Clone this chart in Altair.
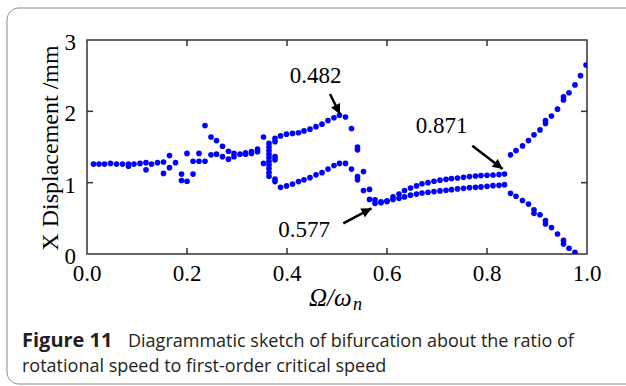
import altair as alt
import pandas as pd

# ---- data (ratio Ω/ωn, X displacement in mm) ----
ratio_a = [0.013, 0.024, 0.035, 0.047, 0.059, 0.071, 0.083, 0.083, 0.094, 0.106,
           0.118, 0.118, 0.129, 0.141, 0.153, 0.153, 0.165, 0.165, 0.177, 0.189, 0.189]
disp_a = [1.26, 1.26, 1.26, 1.27, 1.26, 1.26, 1.26, 1.23, 1.26, 1.27,
          1.28, 1.18, 1.26, 1.28, 1.29, 1.13, 1.38, 1.21, 1.28, 1.12, 1.03]

ratio_b = [0.200, 0.200, 0.212, 0.212, 0.224, 0.224, 0.236, 0.236, 0.248, 0.248,
           0.259, 0.259, 0.271, 0.271, 0.283, 0.283, 0.294, 0.294, 0.306, 0.317,
           0.317, 0.329, 0.329, 0.341, 0.341, 0.353, 0.353]
disp_b = [1.41, 1.02, 1.30, 1.12, 1.41, 1.30, 1.80, 1.30, 1.64, 1.39,
          1.59, 1.40, 1.51, 1.365, 1.44, 1.33, 1.41, 1.365, 1.40, 1.42,
          1.40, 1.435, 1.41, 1.47, 1.435, 1.64, 1.27]

ratio_c = [0.364, 0.364, 0.364, 0.364, 0.364, 0.364, 0.364, 0.364, 0.364, 0.364,
           0.376, 0.376, 0.376, 0.376, 0.376, 0.376]
disp_c = [1.55, 1.50, 1.45, 1.40, 1.35, 1.30, 1.25, 1.20, 1.14, 1.09,
          1.62, 1.575, 1.365, 1.32, 1.05, 1.015]

ratio_d_up = [0.387, 0.399, 0.411, 0.423, 0.434, 0.446, 0.458, 0.470, 0.482, 0.494,
              0.505, 0.517, 0.529, 0.541, 0.541]
disp_d_up = [1.655, 1.68, 1.69, 1.70, 1.725, 1.75, 1.785, 1.82, 1.87, 1.91,
             1.945, 1.92, 1.76, 1.50, 1.46]
ratio_d_lo = [0.387, 0.399, 0.411, 0.423, 0.434, 0.446, 0.458, 0.470, 0.482, 0.494,
              0.505, 0.517, 0.529, 0.541, 0.541, 0.553, 0.553]
disp_d_lo = [0.935, 0.955, 0.98, 1.015, 1.04, 1.07, 1.11, 1.14, 1.19, 1.24,
             1.27, 1.27, 1.19, 1.085, 1.04, 1.155, 0.89]

ratio_e = [0.565, 0.576, 0.588, 0.600, 0.612, 0.624, 0.635, 0.647, 0.659, 0.670,
           0.682, 0.694, 0.706, 0.718, 0.729, 0.741, 0.753, 0.765, 0.777, 0.788,
           0.800, 0.812, 0.824, 0.835]
disp_e_lo = [0.765, 0.71, 0.72, 0.735, 0.765, 0.78, 0.80, 0.825, 0.84, 0.855,
             0.865, 0.875, 0.884, 0.893, 0.902, 0.912, 0.921, 0.93, 0.935, 0.94,
             0.949, 0.958, 0.963, 0.972]
disp_e_up = [0.905, 0.76, 0.73, 0.745, 0.80, 0.84, 0.89, 0.925, 0.955, 0.985,
             1.0, 1.02, 1.035, 1.047, 1.057, 1.066, 1.075, 1.085, 1.094, 1.099,
             1.104, 1.108, 1.113, 1.122]

ratio_f_up = [0.847, 0.858, 0.871, 0.883, 0.894, 0.906, 0.917, 0.917, 0.929, 0.941,
              0.953, 0.953, 0.964, 0.976, 0.987, 0.998]
disp_f_up = [1.39, 1.45, 1.515, 1.59, 1.67, 1.74, 1.83, 1.87, 1.935, 2.03,
             2.16, 2.205, 2.26, 2.37, 2.50, 2.65]
ratio_f_lo = [0.847, 0.858, 0.871, 0.883, 0.894, 0.894, 0.906, 0.917, 0.917, 0.929,
              0.941, 0.953, 0.953, 0.964, 0.976]
disp_f_lo = [0.85, 0.81, 0.75, 0.70, 0.62, 0.57, 0.55, 0.47, 0.42, 0.37,
             0.28, 0.19, 0.14, 0.08, 0.025]

x_ticks = [0.0, 0.2, 0.4, 0.6, 0.8, 1.0]
x_tick_labels = ["0.0", "0.2", "0.4", "0.6", "0.8", "1.0"]
y_ticks = [0, 1, 2, 3]
y_tick_labels = ["0", "1", "2", "3"]
x_inner_ticks = [0.2, 0.4, 0.6, 0.8]
y_inner_ticks = [1, 2]

# annotations: label, text position, arrow start, arrow tip, head angle
ann_label = ["0.482", "0.577", "0.871"]
ann_tx = [0.457, 0.434, 0.709]
ann_ty = [2.393, 0.243, 1.692]
arr_x1 = [0.486, 0.5126, 0.7706]
arr_y1 = [2.244, 0.430, 1.519]
arr_x2 = [0.506, 0.569, 0.8314]
arr_y2 = [1.959, 0.641, 1.192]
arr_angle = [153.8, 62.2, 127.5]

caption_bold = "Figure 11"
caption_line1 = "Diagrammatic sketch of bifurcation about the ratio of"
caption_line2 = "rotational speed to first-order critical speed"

# ---- build tables ----
ratio = ratio_a + ratio_b + ratio_c + ratio_d_up + ratio_d_lo + ratio_e + ratio_e + ratio_f_up + ratio_f_lo
disp = disp_a + disp_b + disp_c + disp_d_up + disp_d_lo + disp_e_lo + disp_e_up + disp_f_up + disp_f_lo
pts = pd.DataFrame({"r": ratio, "d": disp})

ann = pd.DataFrame({"label": ann_label, "tx": ann_tx, "ty": ann_ty,
                    "x1": arr_x1, "y1": arr_y1, "x2": arr_x2, "y2": arr_y2,
                    "ang": arr_angle})
xl = pd.DataFrame({"r": x_ticks, "lab": x_tick_labels})
yl = pd.DataFrame({"d": y_ticks, "lab": y_tick_labels})

W, H = 500, 214
SERIF = "Liberation Serif"
xs = alt.Scale(domain=[0, 1], nice=False, zero=False)
ys = alt.Scale(domain=[0, 3], nice=False, zero=False)

points = alt.Chart(pts).mark_circle(size=32, color="#0000ff", opacity=1, clip=True).encode(
    x=alt.X("r:Q", scale=xs, axis=None),
    y=alt.Y("d:Q", scale=ys, axis=None),
)

x_labels = alt.Chart(xl).mark_text(font=SERIF, fontSize=23, color="black", align="center",
                                   baseline="top").encode(
    x=alt.X("r:Q", scale=xs, axis=None), y=alt.value(H + 9), text="lab:N")
y_labels = alt.Chart(yl).mark_text(font=SERIF, fontSize=23, color="black", align="right",
                                   baseline="middle", dy=3).encode(
    y=alt.Y("d:Q", scale=ys, axis=None), x=alt.value(-11), text="lab:N")

tick_style = dict(color="#333333", strokeWidth=1.5)
xt = pd.DataFrame({"r": x_inner_ticks})
yt = pd.DataFrame({"d": y_inner_ticks})
bottom_ticks = alt.Chart(xt).mark_rule(**tick_style).encode(
    x=alt.X("r:Q", scale=xs, axis=None), y=alt.value(H), y2=alt.value(H - 6))
top_ticks = alt.Chart(xt).mark_rule(**tick_style).encode(
    x=alt.X("r:Q", scale=xs, axis=None), y=alt.value(0), y2=alt.value(6))
left_ticks = alt.Chart(yt).mark_rule(**tick_style).encode(
    y=alt.Y("d:Q", scale=ys, axis=None), x=alt.value(0), x2=alt.value(6))
right_ticks = alt.Chart(yt).mark_rule(**tick_style).encode(
    y=alt.Y("d:Q", scale=ys, axis=None), x=alt.value(W), x2=alt.value(W - 6))

arrows = alt.Chart(ann).mark_rule(color="black", strokeWidth=2.5).encode(
    x=alt.X("x1:Q", scale=xs, axis=None), y=alt.Y("y1:Q", scale=ys, axis=None),
    x2="x2:Q", y2="y2:Q")
heads = alt.Chart(ann).mark_point(shape="M0,0 L-0.5,1 L0.5,1 Z", filled=True, size=400,
                                  color="black", opacity=1).encode(
    x=alt.X("x2:Q", scale=xs, axis=None), y=alt.Y("y2:Q", scale=ys, axis=None),
    angle=alt.Angle("ang:Q", scale=None))
ann_text = alt.Chart(ann).mark_text(font=SERIF, fontSize=23, color="black", align="center",
                                    baseline="alphabetic").encode(
    x=alt.X("tx:Q", scale=xs, axis=None), y=alt.Y("ty:Q", scale=ys, axis=None), text="label:N")

one = pd.DataFrame({"k": [0]})
y_title = alt.Chart(one).mark_text(text="X Displacement /mm", font=SERIF, fontSize=24, color="black",
                                   angle=270, align="center", baseline="alphabetic").encode(
    x=alt.value(-29), y=alt.value(108))
x_title1 = alt.Chart(one).mark_text(text="Ω/ω", font=SERIF, fontSize=25, fontStyle="italic",
                                    color="black", align="left", baseline="alphabetic").encode(
    x=alt.value(222), y=alt.value(266))
x_title2 = alt.Chart(one).mark_text(text="n", font=SERIF, fontSize=18, fontStyle="italic",
                                    color="black", align="left", baseline="alphabetic").encode(
    x=alt.value(266), y=alt.value(270))

cap_style = dict(font="Open Sans", color="#231f20", align="left", baseline="alphabetic")
cap_b = alt.Chart(one).mark_text(text=caption_bold, fontWeight="bold", fontSize=20, **cap_style).encode(
    x=alt.value(-65), y=alt.value(307))
cap_1 = alt.Chart(one).mark_text(text=caption_line1, fontSize=18, **cap_style).encode(
    x=alt.value(41), y=alt.value(307))
cap_2 = alt.Chart(one).mark_text(text=caption_line2, fontSize=18, **cap_style).encode(
    x=alt.value(-65), y=alt.value(332))

frame = alt.Chart(one).mark_rect(fillOpacity=0, stroke="#8a8a8a", strokeWidth=1, cornerRadius=12).encode(
    x=alt.value(-80), x2=alt.value(570), y=alt.value(-32), y2=alt.value(344))

chart = alt.layer(
    frame, points, bottom_ticks, top_ticks, left_ticks, right_ticks,
    x_labels, y_labels, arrows, heads, ann_text, y_title, x_title1, x_title2,
    cap_b, cap_1, cap_2
).properties(
    width=W, height=H,
    autosize=alt.AutoSizeParams(type="none"),
    padding={"left": 87, "top": 40, "right": 39, "bottom": 132},
    background="white",
).configure_view(stroke="#333333", strokeWidth=1.5)

chart.save("out.html", embed_options={"renderer": "svg", "actions": False})
